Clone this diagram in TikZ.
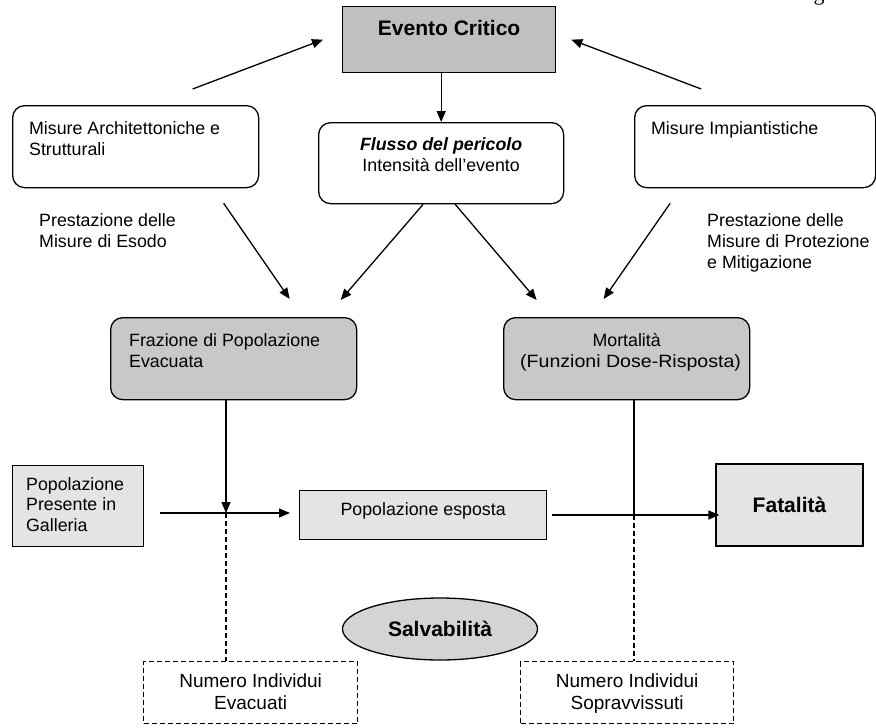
\documentclass[tikz,border=0pt]{standalone}
\usepackage{fontspec}
\usepackage{graphicx}
\setmainfont{Liberation Sans}
\newfontfamily\glyphfont{Liberation Serif}
\usetikzlibrary{positioning,shapes.geometric,arrows.meta,calc}
\definecolor{critcolor}{RGB}{192,192,192}
\definecolor{calccolor}{RGB}{200,200,200}
\definecolor{popcolor}{RGB}{228,228,228}
\definecolor{salvcolor}{RGB}{212,212,212}
\newcommand{\boxtext}[3]{\parbox[c][#2][t]{#1}{#3}}
\newcommand{\narrowtext}[2]{\scalebox{#1}[1]{#2}}

\begin{document}
\begin{tikzpicture}[
    x=1pt, y=-1pt,
    txt/.style={font=\fontsize{17.8pt}{21pt}\selectfont},
    plainbox/.style={draw, line width=1.3pt, txt, anchor=north west, inner xsep=16.5pt, inner ysep=15.5pt},
    softbox/.style={plainbox, rounded corners=12pt},
    crit/.style={plainbox, fill=critcolor},
    calcbox/.style={softbox, fill=calccolor},
    popbox/.style={plainbox, fill=popcolor},
    outbox/.style={plainbox, dash pattern=on 5pt off 3pt, font=\fontsize{19pt}{21.7pt}\selectfont},
    salv/.style={ellipse, draw, line width=1.3pt, fill=salvcolor, minimum width=195pt, minimum height=62pt, inner sep=0pt, font=\fontsize{21pt}{25pt}\selectfont\bfseries},
    note/.style={txt, anchor=north west, inner sep=0pt, align=left},
    arrow/.style={-{Triangle[length=11pt,width=9pt]}, line width=1.3pt},
    link/.style={line width=1.3pt},
    dashlink/.style={line width=1.3pt, dash pattern=on 5pt off 3pt}
]
\useasboundingbox (0,0) rectangle (876,728);

% ===== TOP =====
\node[crit, inner xsep=0pt, inner ysep=13.5pt] (evento) at (342,6) {\boxtext{213pt}{39pt}{\centering\fontsize{21pt}{25pt}\selectfont\bfseries Evento Critico}};
\node[softbox, inner ysep=14.5pt] (flusso) at (318,122) {\boxtext{212pt}{52pt}{\centering{\bfseries\itshape Flusso del pericolo}\\Intensità dell’evento}};
\node[softbox] (misarch) at (12,105) {\boxtext{213pt}{51pt}{\raggedright Misure Architettoniche e\\Strutturali}};
\node[softbox] (misimp) at (634,105) {\boxtext{208pt}{51pt}{\raggedright Misure Impiantistiche}};
\node[font=\glyphfont\fontsize{22pt}{22pt}\selectfont, anchor=base, inner sep=0pt] (pagemark) at (819,1) {g};

% ===== PERFORMANCE LABELS =====
\node[note] (presesodo) at (39,213.5) {Prestazione delle\\Misure di Esodo};
\node[note] (presprot) at (707,213.5) {Prestazione delle\\Misure di Protezione\\e Mitigazione};

% ===== MIDDLE =====
\node[calcbox, inner xsep=18.5pt] (frazione) at (110,317) {\boxtext{209pt}{51pt}{\raggedright Frazione di Popolazione\\Evacuata}};
\node[calcbox] (mortalita) at (503,317) {\boxtext{213pt}{51pt}{\centering Mortalità\\\narrowtext{1.1}{(Funzioni Dose-Risposta)}}};

% ===== POPULATION ROW =====
\node[popbox, inner xsep=13.5pt, inner ysep=11.5pt] (poppres) at (12,465) {\boxtext{104pt}{58pt}{\raggedright\fontsize{17.8pt}{20.5pt}\selectfont Popolazione\\Presente in\\Galleria}};
\node[popbox, inner xsep=0pt, inner ysep=11.5pt] (popesp) at (299,490) {\boxtext{247pt}{26pt}{\centering Popolazione esposta}};
\node[popbox, anchor=center, minimum width=147pt, minimum height=82pt, inner sep=0pt, font=\fontsize{21pt}{25pt}\selectfont\bfseries] (fatal) at (789.5,505) {Fatalità};

% ===== BOTTOM =====
\node[salv] (salv) at (440,629) {Salvabilità};
\node[outbox, inner xsep=0pt, inner ysep=12pt] (numevac) at (143,661) {\boxtext{214pt}{38pt}{\centering Numero Individui\\Evacuati}};
\node[outbox, inner xsep=0pt, inner ysep=12pt] (numsopr) at (520,661) {\boxtext{213pt}{38pt}{\centering Numero Individui\\Sopravvissuti}};

\coordinate (jleft) at (226,513);
\coordinate (jright) at (634,515);

% ===== ARROWS - TOP =====
\draw[arrow] (evento.south -| flusso.north) -- (flusso.north);
\draw[arrow] ([shift={(57,-16)}]misarch.north) -- ([xshift=-19pt]evento.west);
\draw[arrow] ([shift={(-54,-16)}]misimp.north) -- ([xshift=15pt]evento.east);

% ===== ARROWS - MIDDLE =====
\draw[arrow] ([shift={(88,15)}]misarch.south) -- ([shift={(56,-18)}]frazione.north);
\draw[arrow] ([xshift=-18pt]flusso.south) -- ([shift={(107,-17)}]frazione.north);
\draw[arrow] ([xshift=14pt]flusso.south) -- ([shift={(-90,-17)}]mortalita.north);
\draw[arrow] ([shift={(-85,15)}]misimp.south) -- ([shift={(-23,-18)}]mortalita.north);

% ===== ARROWS - BOTTOM =====
\draw[arrow] (frazione.south -| jleft) -- (jleft);
\draw[arrow] ($(poppres.east |- jleft)+(16,0)$) -- ($(popesp.west |- jleft)+(-9,0)$);
\draw[dashlink] (jleft) -- (numevac.north -| jleft);
\draw[link] (mortalita.south -| jright) -- (jright);
\draw[arrow] ($(popesp.east |- jright)+(5,0)$) -- ($(fatal.west |- jright)+(4,0)$);
\draw[dashlink] (jright) -- (numsopr.north -| jright);

\end{tikzpicture}
\end{document}
